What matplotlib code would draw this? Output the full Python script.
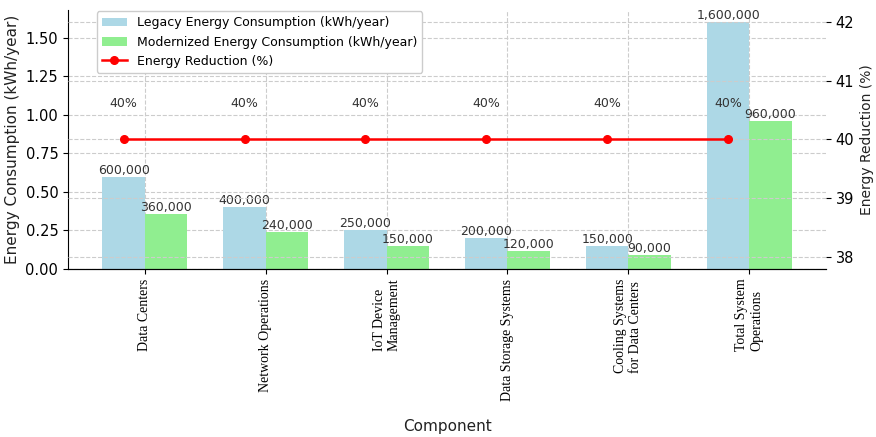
import matplotlib
matplotlib.use("Agg")
import matplotlib.pyplot as plt
from matplotlib.ticker import FuncFormatter
import numpy as np

# Data
components = [
    "Data Centers",
    "Network Operations",
    "IoT Device\nManagement",
    "Data Storage Systems",
    "Cooling Systems\nfor Data Centers",
    "Total System\nOperations",
]
legacy = [600000, 400000, 250000, 200000, 150000, 1600000]
modernized = [360000, 240000, 150000, 120000, 90000, 960000]
reduction = [40, 40, 40, 40, 40, 40]

fig = plt.figure(figsize=(8.76, 4.37), dpi=100)
ax = fig.add_axes([0.0776, 0.3844, 0.8654, 0.5926])

x = np.arange(len(components))
w = 0.35
text_col = "#333333"

b1 = ax.bar(x - w / 2, legacy, w, color="#ADD8E6", label="Legacy Energy Consumption (kWh/year)")
b2 = ax.bar(x + w / 2, modernized, w, color="#90EE90", label="Modernized Energy Consumption (kWh/year)")

for bars in (b1, b2):
    for r in bars:
        h = r.get_height()
        ax.text(r.get_x() + r.get_width() / 2, h, f"{h:,.0f}", ha="center", va="bottom",
                fontsize=9, color=text_col)

ax.set_ylabel("Energy Consumption (kWh/year)", fontsize=11, color="#222222")
ax.set_xlabel("Component", fontsize=11, color="#222222", labelpad=13)
ax.set_xticks(x)
ax.set_xticklabels(components, rotation=90, family="Liberation Serif", fontsize=10,
                   multialignment="left")
ax.tick_params(axis="y", labelsize=10.5)
ax.yaxis.set_major_formatter(FuncFormatter(lambda v, pos: f"{v / 1e6:.2f}"))
ax.grid(True, linestyle="--", color="#cccccc", linewidth=0.8)
ax.set_axisbelow(True)
for s in ("top", "right"):
    ax.spines[s].set_visible(False)

ax2 = ax.twinx()
line, = ax2.plot(x - w / 2, reduction, color="red", marker="o", markersize=5.5,
                 linewidth=1.8, label="Energy Reduction (%)")
for xi, p in zip(x - w / 2, reduction):
    ax2.text(xi, p + 0.5, f"{p}%", ha="center", va="bottom", fontsize=9, color=text_col)
ax2.set_ylim(37.79, 42.2)
ax2.set_yticks([38, 39, 40, 41, 42])
ax2.set_ylabel("Energy Reduction (%)", fontsize=10, color="#222222")
ax2.tick_params(axis="y", labelsize=10.5)
ax2.grid(True, axis="y", linestyle="--", color="#cccccc", linewidth=0.8)
for s in ("top", "right", "left"):
    ax2.spines[s].set_visible(False)

handles = [b1, b2, line]
labels = [h.get_label() for h in handles]
leg = ax2.legend(handles, labels, loc="upper left", bbox_to_anchor=(0.038, 0.995),
                 borderaxespad=0, fontsize=9, frameon=True, edgecolor="#cccccc",
                 framealpha=1.0)
leg.set_zorder(10)

fig.savefig("out.png", dpi=100)
